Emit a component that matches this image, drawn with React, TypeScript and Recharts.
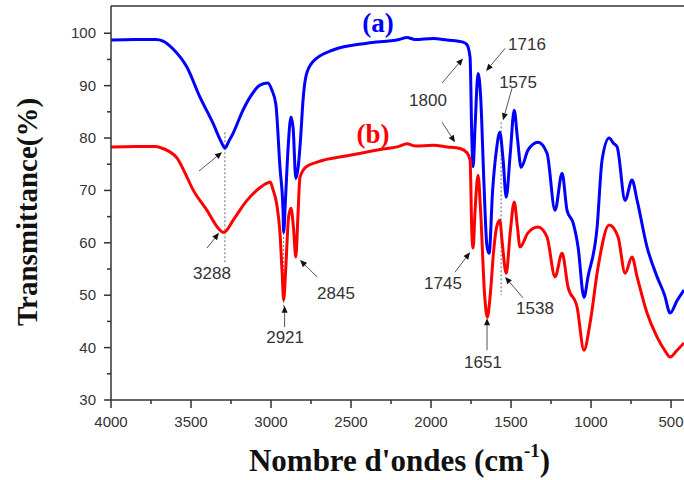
import React from 'react';
import { LineChart, Line, XAxis, YAxis, ReferenceLine, ReferenceDot } from 'recharts';

// FTIR spectra: [wavenumber (cm-1), transmittance (%)]
const spectrumA: [number, number][] = [
  [4000, 98.7], [3850, 98.8], [3720, 98.8], [3675, 98.5], [3612, 97.0], [3525, 93.5],
  [3444, 87.8], [3362, 82.8], [3310, 79.2], [3288, 78.1], [3262, 79.5], [3237, 80.9],
  [3180, 85.0], [3131, 87.8], [3069, 90.1], [3019, 90.5], [2994, 89.1], [2970, 86.5],
  [2944, 74.4], [2925, 66.2], [2921, 62.0], [2910, 68.0], [2894, 77.7], [2875, 84.0],
  [2862, 82.0], [2845, 72.3], [2830, 74.5], [2815, 80.0], [2800, 87.2], [2780, 92.0],
  [2740, 94.5], [2612, 96.8], [2400, 98.1], [2200, 98.8], [2150, 99.2], [2100, 98.8],
  [1987, 99.0], [1900, 98.7], [1800, 98.3], [1775, 97.8], [1756, 95.4], [1745, 80.0],
  [1737, 74.5], [1725, 82.0], [1706, 92.3], [1690, 88.0], [1670, 72.0], [1651, 59.5],
  [1637, 58.0], [1615, 70.0], [1590, 78.0], [1570, 81.1], [1550, 76.0], [1530, 68.7],
  [1505, 77.0], [1480, 85.3], [1460, 80.0], [1437, 74.4], [1394, 77.7], [1331, 79.2],
  [1275, 77.1], [1225, 66.2], [1181, 73.3], [1150, 66.2], [1112, 63.8], [1081, 59.2],
  [1044, 49.6], [1019, 53.5], [962, 63.0], [931, 75.8], [887, 80.0], [860, 79.0],
  [837, 78.3], [787, 68.1], [744, 72.0], [712, 68.1], [650, 59.2], [587, 53.5],
  [540, 50.0], [506, 46.6], [462, 49.0], [419, 51.0],
];

const spectrumB: [number, number][] = [
  [4000, 78.3], [3850, 78.4], [3720, 78.4], [3694, 78.2], [3640, 77.5], [3588, 76.2],
  [3540, 73.5], [3487, 70.1], [3400, 66.2], [3330, 62.8], [3300, 62.0], [3288, 62.1],
  [3237, 64.3], [3150, 68.1], [3070, 70.5], [3025, 71.4], [3005, 71.6], [2987, 70.1],
  [2965, 67.5], [2944, 61.9], [2930, 54.0], [2921, 49.1], [2908, 55.0], [2890, 65.0],
  [2875, 66.6], [2860, 63.0], [2845, 57.3], [2832, 65.0], [2819, 72.5], [2780, 74.5],
  [2712, 75.4], [2506, 76.7], [2300, 77.9], [2200, 78.4], [2150, 78.9], [2100, 78.5],
  [1987, 78.6], [1900, 78.3], [1819, 78.0], [1775, 77.2], [1756, 75.8], [1745, 62.0],
  [1737, 59.0], [1725, 66.0], [1706, 72.9], [1690, 66.0], [1665, 50.0], [1648, 45.8],
  [1630, 50.0], [1610, 58.0], [1590, 63.0], [1570, 64.3], [1555, 60.0], [1530, 54.2],
  [1505, 62.0], [1480, 67.8], [1460, 63.0], [1444, 59.2], [1394, 61.9], [1331, 63.0],
  [1275, 61.1], [1225, 53.5], [1181, 58.0], [1144, 51.6], [1087, 47.7], [1044, 39.5],
  [1006, 44.7], [956, 55.4], [887, 63.4], [831, 61.1], [787, 54.2], [744, 57.3],
  [712, 53.5], [650, 46.6], [587, 42.0], [540, 39.5], [506, 38.2], [462, 39.5],
  [419, 40.9],
];

const xTicks = [4000, 3750, 3500, 3250, 3000, 2750, 2500, 2250, 2000, 1750, 1500, 1250, 1000, 750, 500];
const yTicks = [30, 35, 40, 45, 50, 55, 60, 65, 70, 75, 80, 85, 90, 95, 100];
const X_MIN = 419;
const Y_MAX = 105.2;

// peak labels (text, wavenumber, %T)
const peakText = ['3288', '2921', '2845', '1800', '1716', '1575', '1745', '1538', '1651'];
const peakWn = [3369, 2912, 2594, 2019, 1400, 1456, 1925, 1350, 1675];
const peakT = [54.2, 42.0, 50.4, 87.2, 97.9, 90.7, 52.3, 47.5, 37.3];

// arrows: [fromWn, fromT, toWn, toT]
const arrows = [
  [3450, 73.7, 3306, 77.3],
  [3400, 59.0, 3325, 61.9],
  [2915, 43.9, 2915, 48.0],
  [2712, 53.5, 2819, 56.7],
  [1931, 90.5, 1800, 95.2],
  [1931, 83.0, 1850, 79.2],
  [1537, 97.1, 1656, 92.8],
  [1494, 89.5, 1550, 83.4],
  [1850, 54.4, 1756, 58.2],
  [1425, 49.5, 1537, 53.5],
  [1650, 39.5, 1650, 45.6],
];

// dotted guides: [wavenumber, topT, bottomT]
const guides = [
  [3288, 81.1, 56.3],
  [2921, 61.9, 47.7],
  [1562, 83.0, 50.0],
];

const toRows = (s: [number, number][]) => s.map(([wn, t]) => ({ wn, t }));

const axisColor = '#333';
const sans = '"Liberation Sans", Arial, sans-serif';
const serif = '"Liberation Serif", "Times New Roman", serif';

const XTick = (p: any) => {
  const v = p.payload.value;
  const major = v % 500 === 0;
  return (
    <g>
      <line x1={p.x} y1={p.y} x2={p.x} y2={p.y + (major ? 8 : 4)} stroke={axisColor} strokeWidth={1.5} />
      {major && (
        <text x={p.x} y={p.y + 27} textAnchor="middle" fontSize={15} fontFamily={sans} fill="#333">
          {v}
        </text>
      )}
    </g>
  );
};

const YTick = (p: any) => {
  const v = p.payload.value;
  const major = v % 10 === 0;
  return (
    <g>
      <line x1={p.x} y1={p.y} x2={p.x - (major ? 7 : 4)} y2={p.y} stroke={axisColor} strokeWidth={1.5} />
      {major && (
        <text x={p.x - 15} y={p.y + 5} textAnchor="end" fontSize={15} fontFamily={sans} fill="#333">
          {v}
        </text>
      )}
    </g>
  );
};

const Arrow = (p: any) => {
  const { x1, y1, x2, y2 } = p;
  const dx = x2 - x1;
  const dy = y2 - y1;
  const len = Math.hypot(dx, dy) || 1;
  const ux = dx / len;
  const uy = dy / len;
  const bx = x2 - ux * 7;
  const by = y2 - uy * 7;
  return (
    <g>
      <line x1={x1} y1={y1} x2={bx} y2={by} stroke="#555" strokeWidth={1} />
      <polygon
        points={`${x2},${y2} ${bx - uy * 3},${by + ux * 3} ${bx + uy * 3},${by - ux * 3}`}
        fill="#111"
      />
    </g>
  );
};

const Guide = (p: any) => (
  <line x1={p.x1} y1={p.y1} x2={p.x2} y2={p.y2} stroke="#666" strokeWidth={1} strokeDasharray="2 2" />
);

const peakLabel = (text: string) => (p: any) => (
  <text x={p.cx} y={p.cy} dy="0.35em" textAnchor="middle" fontSize={17} fontFamily={sans} fill="#333">
    {text}
  </text>
);

const seriesLabel = (text: string, color: string) => (p: any) => (
  <text x={p.cx} y={p.cy} dy="0.35em" textAnchor="middle" fontSize={27} fontWeight="bold" fontFamily={serif} fill={color}>
    {text}
  </text>
);

export default function App() {
  return (
    <div style={{ position: 'absolute', left: 0, top: 0, width: 684, height: 480, background: '#fff' }}>
      <LineChart width={684} height={480} margin={{ top: 6, right: 0, left: 0, bottom: 0 }}>
        <XAxis
          type="number"
          dataKey="wn"
          domain={[X_MIN, 4000]}
          reversed
          allowDataOverflow
          ticks={xTicks}
          interval={0}
          tickSize={0}
          tickMargin={0}
          tickLine={false}
          tick={<XTick />}
          height={80}
          axisLine={{ stroke: axisColor, strokeWidth: 1.5 }}
          label={({ viewBox }: any) => (
            <text
              x={viewBox.x + viewBox.width / 2 + 2}
              y={471}
              textAnchor="middle"
              fontSize={31}
              fontWeight="bold"
              fontFamily={serif}
              fill="#111"
            >
              Nombre d'ondes (cm
              <tspan dy={-14} fontSize={19}>-1</tspan>
              <tspan dy={14}>)</tspan>
            </text>
          )}
        />
        <YAxis
          type="number"
          domain={[30, Y_MAX]}
          allowDataOverflow
          ticks={yTicks}
          interval={0}
          tickSize={0}
          tickMargin={0}
          tickLine={false}
          tick={<YTick />}
          width={111}
          axisLine={{ stroke: axisColor, strokeWidth: 1.5 }}
          label={() => (
            <text
              x={0}
              y={0}
              transform="translate(37, 212) rotate(-90)"
              textAnchor="middle"
              fontSize={29}
              fontWeight="bold"
              fontFamily={serif}
              fill="#111"
            >
              Transmittance(%)
            </text>
          )}
        />
        <ReferenceLine y={Y_MAX} stroke={axisColor} strokeWidth={1.5} />
        {guides.map((g, i) => (
          <ReferenceLine
            key={`g${i}`}
            segment={[{ x: g[0], y: g[1] }, { x: g[0], y: g[2] }]}
            shape={Guide}
          />
        ))}
        <Line
          data={toRows(spectrumA)}
          dataKey="t"
          type="monotone"
          stroke="#0000ff"
          strokeWidth={3}
          dot={false}
          isAnimationActive={false}
        />
        <Line
          data={toRows(spectrumB)}
          dataKey="t"
          type="monotone"
          stroke="#ff0000"
          strokeWidth={3}
          dot={false}
          isAnimationActive={false}
        />
        {arrows.map((a, i) => (
          <ReferenceLine
            key={`a${i}`}
            segment={[{ x: a[0], y: a[1] }, { x: a[2], y: a[3] }]}
            shape={Arrow}
          />
        ))}
        {peakText.map((t, i) => (
          <ReferenceDot key={`p${i}`} x={peakWn[i]} y={peakT[i]} r={0} shape={peakLabel(t)} />
        ))}
        <ReferenceDot x={2331} y={102.1} r={0} shape={seriesLabel('(a)', '#0000ff')} />
        <ReferenceDot x={2362} y={80.9} r={0} shape={seriesLabel('(b)', '#ff0000')} />
      </LineChart>
    </div>
  );
}
